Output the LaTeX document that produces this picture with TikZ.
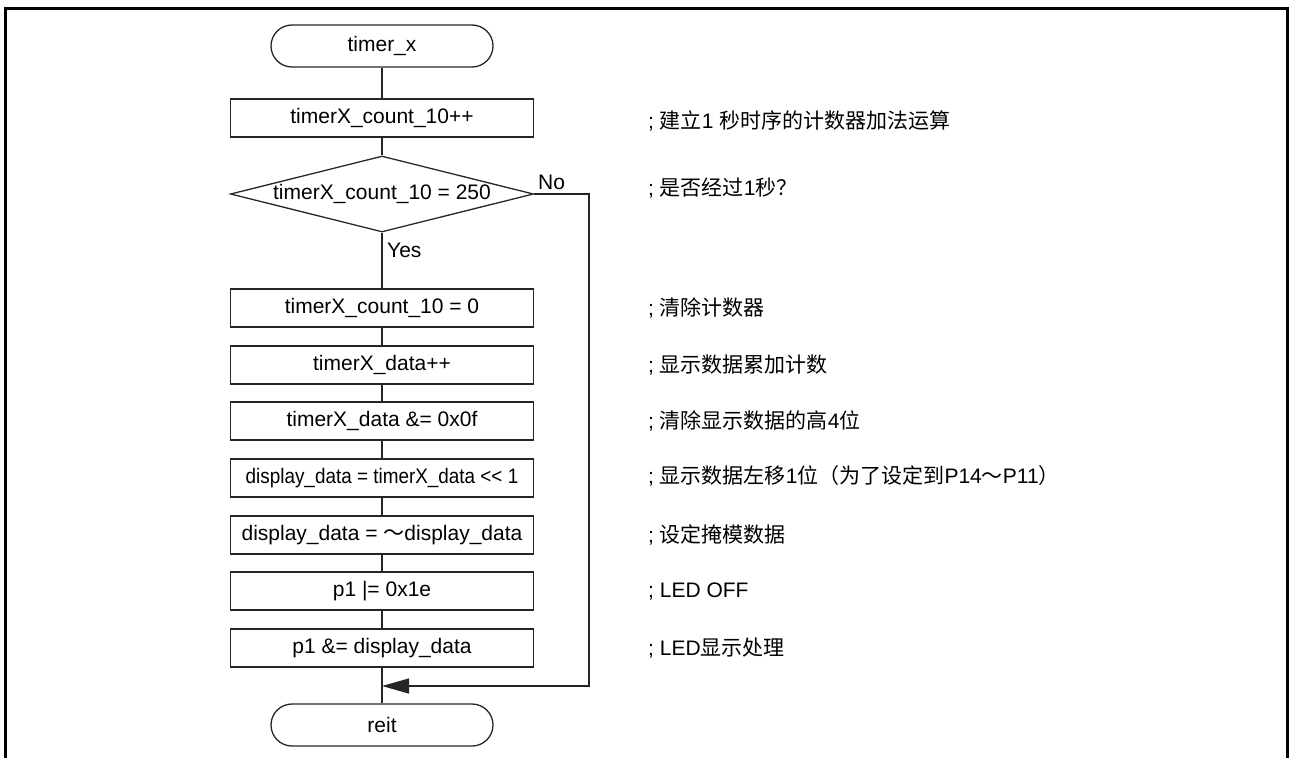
\documentclass[tikz,border=0pt]{standalone}
\usepackage{fontspec}
\usepackage{graphicx}
\setmainfont{Liberation Sans}
\newfontfamily\cjk{Noto Sans CJK SC}
\newcommand\zh[1]{{\cjk #1}}
\usetikzlibrary{shapes.geometric,arrows.meta}
\begin{document}
\begin{tikzpicture}[x=1pt,y=-1pt,
  every node/.style={font=\fontsize{21}{25}\selectfont},
  line/.style={line width=1.3pt,draw=black!85},
  term/.style={line, rectangle, rounded corners=21pt, minimum width=222pt, minimum height=42pt, inner sep=0pt},
  proc/.style={line, rectangle, minimum width=303pt, minimum height=38pt, inner sep=0pt},
  dia/.style={line, diamond, aspect=4, minimum width=303pt, minimum height=76pt, inner sep=0pt},
  cmt/.style={anchor=west, inner sep=0pt},
  lbl/.style={inner sep=0pt}]
\useasboundingbox (0,0) rectangle (1289,758);
\draw[line width=3pt] (5,758) -- (5,8) -- (1287,8) -- (1287,758);

\node[term] (start) at (382,46) {timer\_x};
\node[proc] (b1) at (382,118) {timerX\_count\_10++};
\node[dia] (d) at (382,194) {timerX\_count\_10 = 250};
\node[proc] (b2) at (382,308) {timerX\_count\_10 = 0};
\node[proc] (b3) at (382,365) {timerX\_data++};
\node[proc] (b4) at (382,421) {timerX\_data \&= 0x0f};
\node[proc] (b5) at (382,478) {\scalebox{0.9}[1]{display\_data = timerX\_data <{}< 1}};
\node[proc] (b6) at (382,535) {display\_data = \zh{～}display\_data};
\node[proc] (b7) at (382,591) {p1 |= 0x1e};
\node[proc] (b8) at (382,648) {p1 \&= display\_data};
\node[term] (end) at (382,725) {reit};
\coordinate (m) at (382,686);
\coordinate (r) at (589,686);

\draw[line] (start) -- (b1);
\draw[line] (b1) -- (d);
\draw[line] (d) -- (b2);
\draw[line] (b2) -- (b3);
\draw[line] (b3) -- (b4);
\draw[line] (b4) -- (b5);
\draw[line] (b5) -- (b6);
\draw[line] (b6) -- (b7);
\draw[line] (b7) -- (b8);
\draw[line] (b8) -- (end);
\draw[line, -{Triangle[length=27pt,width=15pt]}] (d.east) -| (r) -- (m);

\node[lbl, anchor=west] (no) at (538,182) {No};
\node[lbl, anchor=west] (yes) at (387,250) {Yes};

\node[cmt] (c1) at (648,121) {; \zh{建立}1 \zh{秒时序的计数器加法运算}};
\node[cmt] (c2) at (648,188) {; \zh{是否经过}1\zh{秒？}};
\node[cmt] (c3) at (648,308) {; \zh{清除计数器}};
\node[cmt] (c4) at (648,365) {; \zh{显示数据累加计数}};
\node[cmt] (c5) at (648,421) {; \zh{清除显示数据的高}4\zh{位}};
\node[cmt] (c6) at (648,476) {; \zh{显示数据左移}1\zh{位（为了设定到}P14\zh{～}P11\zh{）}};
\node[cmt] (c7) at (648,535) {; \zh{设定掩模数据}};
\node[cmt] (c8) at (648,591) {; LED OFF};
\node[cmt] (c9) at (648,648) {; LED\zh{显示处理}};
\end{tikzpicture}
\end{document}
